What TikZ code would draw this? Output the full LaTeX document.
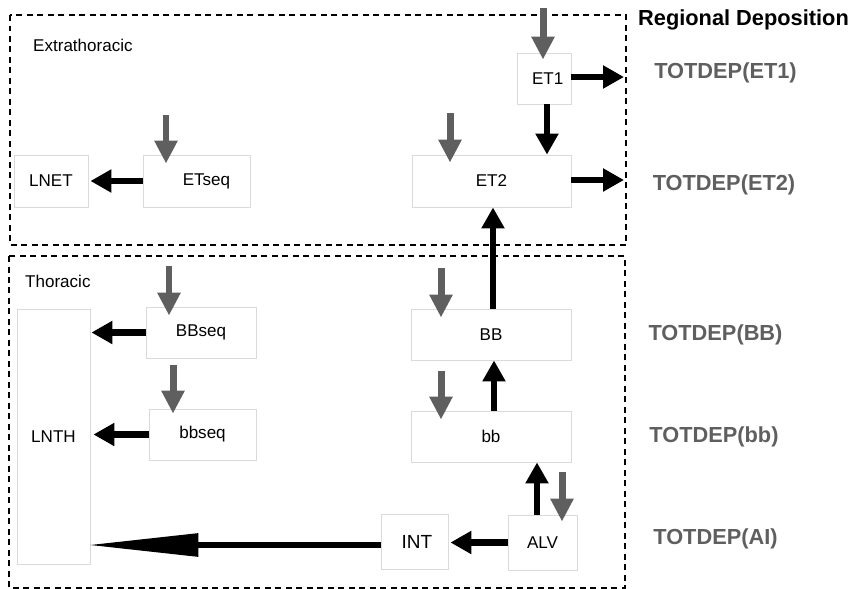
\documentclass[tikz,border=0pt]{standalone}
\usepackage{fontspec}
\setmainfont{Liberation Sans}
\usetikzlibrary{arrows.meta, positioning}
\definecolor{mygray}{RGB}{95, 95, 95}
\definecolor{myedge}{RGB}{218, 218, 218}

\begin{document}
\begin{tikzpicture}[
            x=0.02cm, y=-0.02cm,
            box/.style={
                rectangle,
                draw=myedge,
                line width=0.5pt,
                inner sep=0pt,
                font=\fontsize{9.7}{11}\selectfont
            },
            region/.style={draw, line width=0.7pt, dash pattern=on 0.12cm off 0.09cm},
            tag/.style={font=\fontsize{9.7}{11}\selectfont, anchor=west},
            dep/.style={font=\fontsize{12.4}{14}\selectfont\bfseries, text=mygray},
            flow/.style={line width=0.13cm, -{Triangle[width=0.44cm,length=0.42cm]}},
            feed/.style={line width=0.14cm, draw=mygray, -{Triangle[width=0.44cm,length=0.46cm]}}
        ]
            \useasboundingbox (0,0) rectangle (850,589);

            % Regions
            \draw[region] (10,15) rectangle (626,245);
            \draw[region] (9,256) rectangle (625,588);
            \node[tag] (extra) at (27,45) {Extrathoracic};
            \node[tag] (thor) at (19,281) {Thoracic};

            % Nodes
            \node[box, minimum width=1.48cm, minimum height=1.04cm] (LNET) at (51,181) {LNET};
            \node[box, minimum width=2.14cm, minimum height=1.04cm] (ETseq) at (196.5,181) {\hspace{0.4cm}ETseq};
            \node[box, minimum width=1.08cm, minimum height=1.02cm] (ET1) at (544,78.5) {\hspace{0.15cm}ET1};
            \node[box, minimum width=3.18cm, minimum height=1.04cm] (ET2) at (491.5,181) {ET2};
            \node[box, minimum width=1.46cm, minimum height=5.10cm] (LNTH) at (53.5,436.5) {LNTH};
            \node[box, minimum width=2.20cm, minimum height=1.02cm] (BBseq) at (201,332.5) {BBseq};
            \node[box, minimum width=2.14cm, minimum height=1.02cm] (bbseq) at (202.5,434.5) {bbseq};
            \node[box, minimum width=3.20cm, minimum height=1.02cm] (BB) at (491,334.5) {BB};
            \node[box, minimum width=3.20cm, minimum height=1.02cm] (bb) at (491,436.5) {bb};
            \node[box, minimum width=1.34cm, minimum height=1.10cm, font=\fontsize{10.8}{12}\selectfont] (INT) at (414.5,541.5) {\hspace{0.1cm}INT};
            \node[box, minimum width=1.38cm, minimum height=1.10cm] (ALV) at (542.5,542.5) {ALV};

            % Labels
            \node[anchor=west, font=\fontsize{12.4}{14}\selectfont\bfseries] (regdep) at (632,20) {Regional Deposition};
            \node[dep] (depET1) at (725.5,73) {TOTDEP(ET1)};
            \node[dep] (depET2) at (724,185) {TOTDEP(ET2)};
            \node[dep] (depBB) at (715.5,335) {TOTDEP(BB)};
            \node[dep] (depbb) at (714,437) {TOTDEP(bb)};
            \node[dep] (depAI) at (715.5,539) {TOTDEP(AI)};

            % Inputs
            \coordinate (inET1) at (543,8);
            \coordinate (inET2) at (450,113);
            \coordinate (inETseq) at (166,115);
            \coordinate (inBBseq) at (169,266);
            \coordinate (inBB) at (441,268);
            \coordinate (inbb) at (441,371);
            \coordinate (inALV) at (562,472);
            \coordinate (outET1) at (624,77);
            \coordinate (outET2) at (624,180);

            % Arrows
            \draw[feed, shorten >=-0.14cm] (inET1) -- (inET1 |- ET1.north);
            \draw[feed, shorten >=-0.16cm] (inET2) -- (inET2 |- ET2.north);
            \draw[feed, shorten >=-0.18cm] (inETseq) -- (inETseq |- ETseq.north);
            \draw[feed, shorten >=-0.18cm] (inBBseq) -- (inBBseq |- BBseq.north);
            \draw[feed, shorten >=-0.18cm] (inBB) -- (inBB |- BB.north);
            \draw[feed, shorten >=-0.18cm] (inbb) -- (inbb |- bb.north);
            \draw[feed, shorten >=-0.14cm] (inALV) -- (inALV |- ALV.north);
            \draw[feed, shorten <=0.14cm, shorten >=-0.1cm] ([xshift=-0.56cm]BBseq.south) -- ([xshift=-0.56cm]BBseq.south |- bbseq.north);

            \draw[flow] (ET1.east |- outET1) -- (outET1);
            \draw[flow] (ET2.east |- outET2) -- (outET2);
            \draw[flow] ([xshift=0.06cm]ET1.south) -- ([xshift=0.06cm]ET1.south |- ET2.north);
            \draw[flow] (ETseq.west) -- ([xshift=0.04cm]LNET.east);
            \draw[flow] ([xshift=0.04cm]BB.north) -- ([xshift=0.04cm]BB.north |- ET2.south);
            \draw[flow] ([xshift=0.06cm]bb.north) -- ([xshift=0.06cm]bb.north |- BB.south);
            \draw[flow] ([xshift=-0.11cm]ALV.north) -- ([xshift=-0.11cm]ALV.north |- bb.south);
            \draw[flow] (ALV.west) -- ([xshift=0.04cm]ALV.west -| INT.east);
            \draw[flow] (BBseq.west) -- ([xshift=0.02cm]BBseq.west -| LNTH.east);
            \draw[flow] (bbseq.west) -- ([xshift=0.06cm]bbseq.west -| LNTH.east);
            \draw[line width=0.12cm, -{Triangle[width=0.44cm,length=2.22cm]}] ([yshift=-0.07cm]INT.west) -- ([shift={(-0.06cm,-0.07cm)}]INT.west -| LNTH.east);
        \end{tikzpicture}
\end{document}
